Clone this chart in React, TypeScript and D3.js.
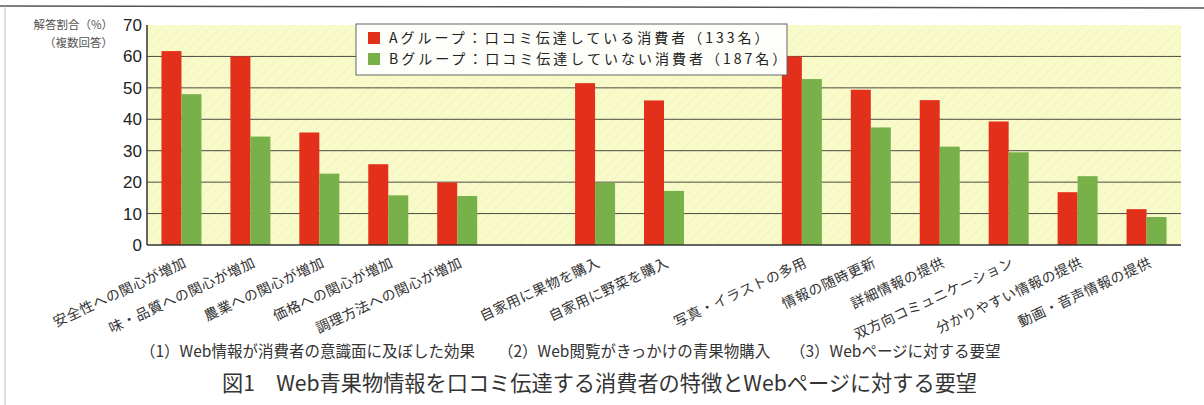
import * as d3 from 'd3'

// categories, split into the three survey sections
const section1 = ['安全性への関心が増加', '味・品質への関心が増加', '農業への関心が増加', '価格への関心が増加', '調理方法への関心が増加']
const section2 = ['自家用に果物を購入', '自家用に野菜を購入']
const section3 = ['写真・イラストの多用', '情報の随時更新', '詳細情報の提供', '双方向コミュニケーション', '分かりやすい情報の提供', '動画・音声情報の提供']

// % answering (multiple answers)
const groupA = [61.7, 60.0, 35.8, 25.7, 19.9, 51.5, 46.0, 60.0, 49.4, 46.1, 39.3, 16.8, 11.4]
const groupB = [48.0, 34.5, 22.7, 15.8, 15.6, 19.8, 17.2, 52.8, 37.4, 31.3, 29.5, 21.9, 8.9]

const seriesNames = ['Aグループ：口コミ伝達している消費者（133名）', 'Bグループ：口コミ伝達していない消費者（187名）']
const yTicks = [0, 10, 20, 30, 40, 50, 60, 70]
const sectionLabels = ['（1）Web情報が消費者の意識面に及ぼした効果', '（2）Web閲覧がきっかけの青果物購入', '（3）Webページに対する要望']
const title = '図1　Web青果物情報を口コミ伝達する消費者の特徴とWebページに対する要望'

const RED = '#e3301b'
const GREEN = '#78b04a'
const JP = '"Noto Sans CJK JP", "Noto Sans", sans-serif'
const NUM = '"Liberation Sans", Arial, sans-serif'

const W = 1204
const H = 405
const left = 147
const right = 1181
const top = 25
const bottom = 245

export default function App() {
  const categories = [...section1, ...section2, ...section3]
  // empty slot between sections
  const slots = [...section1, '_gap1', ...section2, '_gap2', ...section3]

  const x0 = d3.scaleBand<string>()
    .domain(slots)
    .range([left, right])
    .paddingInner(0.42)
    .paddingOuter(0.21)
  const x1 = d3.scaleBand<number>()
    .domain([0, 1])
    .range([0, x0.bandwidth()])
  const y = d3.scaleLinear().domain([0, 70]).range([bottom, top])

  const series = [groupA, groupB]
  const colors = [RED, GREEN]

  return (
    <div style={{ position: 'fixed', left: 0, top: 0 }}>
      <svg width={W} height={H} style={{ display: 'block', background: '#fff' }}>
        <defs>
          <pattern id="hatch" width="7" height="7" patternUnits="userSpaceOnUse" patternTransform="rotate(45)">
            <rect width="7" height="7" fill="#f8fac9" />
            <line x1="0" y1="0" x2="0" y2="7" stroke="#f2f4be" strokeWidth="2" />
          </pattern>
        </defs>

        {/* scan frame */}
        <line x1={0} x2={W} y1={6} y2={8} stroke="#555" strokeWidth={1.5} />
        <line x1={5} x2={5} y1={6} y2={H} stroke="#b8bfd0" strokeWidth={1} />

        {/* plot background */}
        <rect x={left} y={y(70)} width={right - left} height={y(0) - y(70)} fill="url(#hatch)" />

        {/* grid */}
        {yTicks.filter(t => t > 0 && t < 70).map(t => (
          <line key={t} x1={left} x2={right} y1={y(t)} y2={y(t)} stroke="#4a4a44" strokeWidth={1} />
        ))}

        {/* bars */}
        {categories.map((c, i) => (
          <g key={c}>
            {series.map((s, j) => (
              <rect
                key={j}
                x={(x0(c) ?? 0) + (x1(j) ?? 0)}
                y={y(s[i])}
                width={x1.bandwidth()}
                height={y(0) - y(s[i])}
                fill={colors[j]}
              />
            ))}
          </g>
        ))}

        {/* axes */}
        <line x1={left} x2={left} y1={y(70)} y2={y(0)} stroke="#333" strokeWidth={1.5} />
        <line x1={left} x2={right} y1={y(0)} y2={y(0)} stroke="#333" strokeWidth={1.5} />

        {yTicks.map(t => (
          <text key={t} x={142} y={y(t) + 6} textAnchor="end" fontFamily={NUM} fontSize={17} fill="#222">{t}</text>
        ))}

        <text x={113} y={29} textAnchor="end" fontFamily={JP} fontSize={11.5} fill="#555">解答割合（%）</text>
        <text x={113} y={47} textAnchor="end" fontFamily={JP} fontSize={11.5} fill="#555">（複数回答）</text>

        {/* category labels */}
        {categories.map(c => {
          const cx = (x0(c) ?? 0) + x0.bandwidth() / 2
          return (
            <text
              key={c}
              transform={`translate(${cx + 6},${bottom + 21}) rotate(-25)`}
              textAnchor="end"
              fontFamily={JP}
              fontSize={14}
              letterSpacing={0.5}
              fill="#333"
            >{c}</text>
          )
        })}

        {/* legend */}
        <rect x={356} y={24} width={431} height={51} fill="#fdfdf9" stroke="#666" strokeWidth={1} />
        {seriesNames.map((n, j) => (
          <g key={n} transform={`translate(368,${38 + j * 21})`}>
            <rect x={0} y={-6} width={12} height={12} fill={colors[j]} />
            <text x={21} y={5} fontFamily={JP} fontSize={14} letterSpacing={3} fill="#222">{n}</text>
          </g>
        ))}

        {/* section captions */}
        {sectionLabels.map((s, k) => (
          <text key={s} x={[140, 498, 790][k]} y={357} fontFamily={JP} fontSize={15.5} fill="#333">{s}</text>
        ))}

        <text x={222} y={391} fontFamily={JP} fontSize={21.2} fill="#333">{title}</text>
      </svg>
    </div>
  )
}
